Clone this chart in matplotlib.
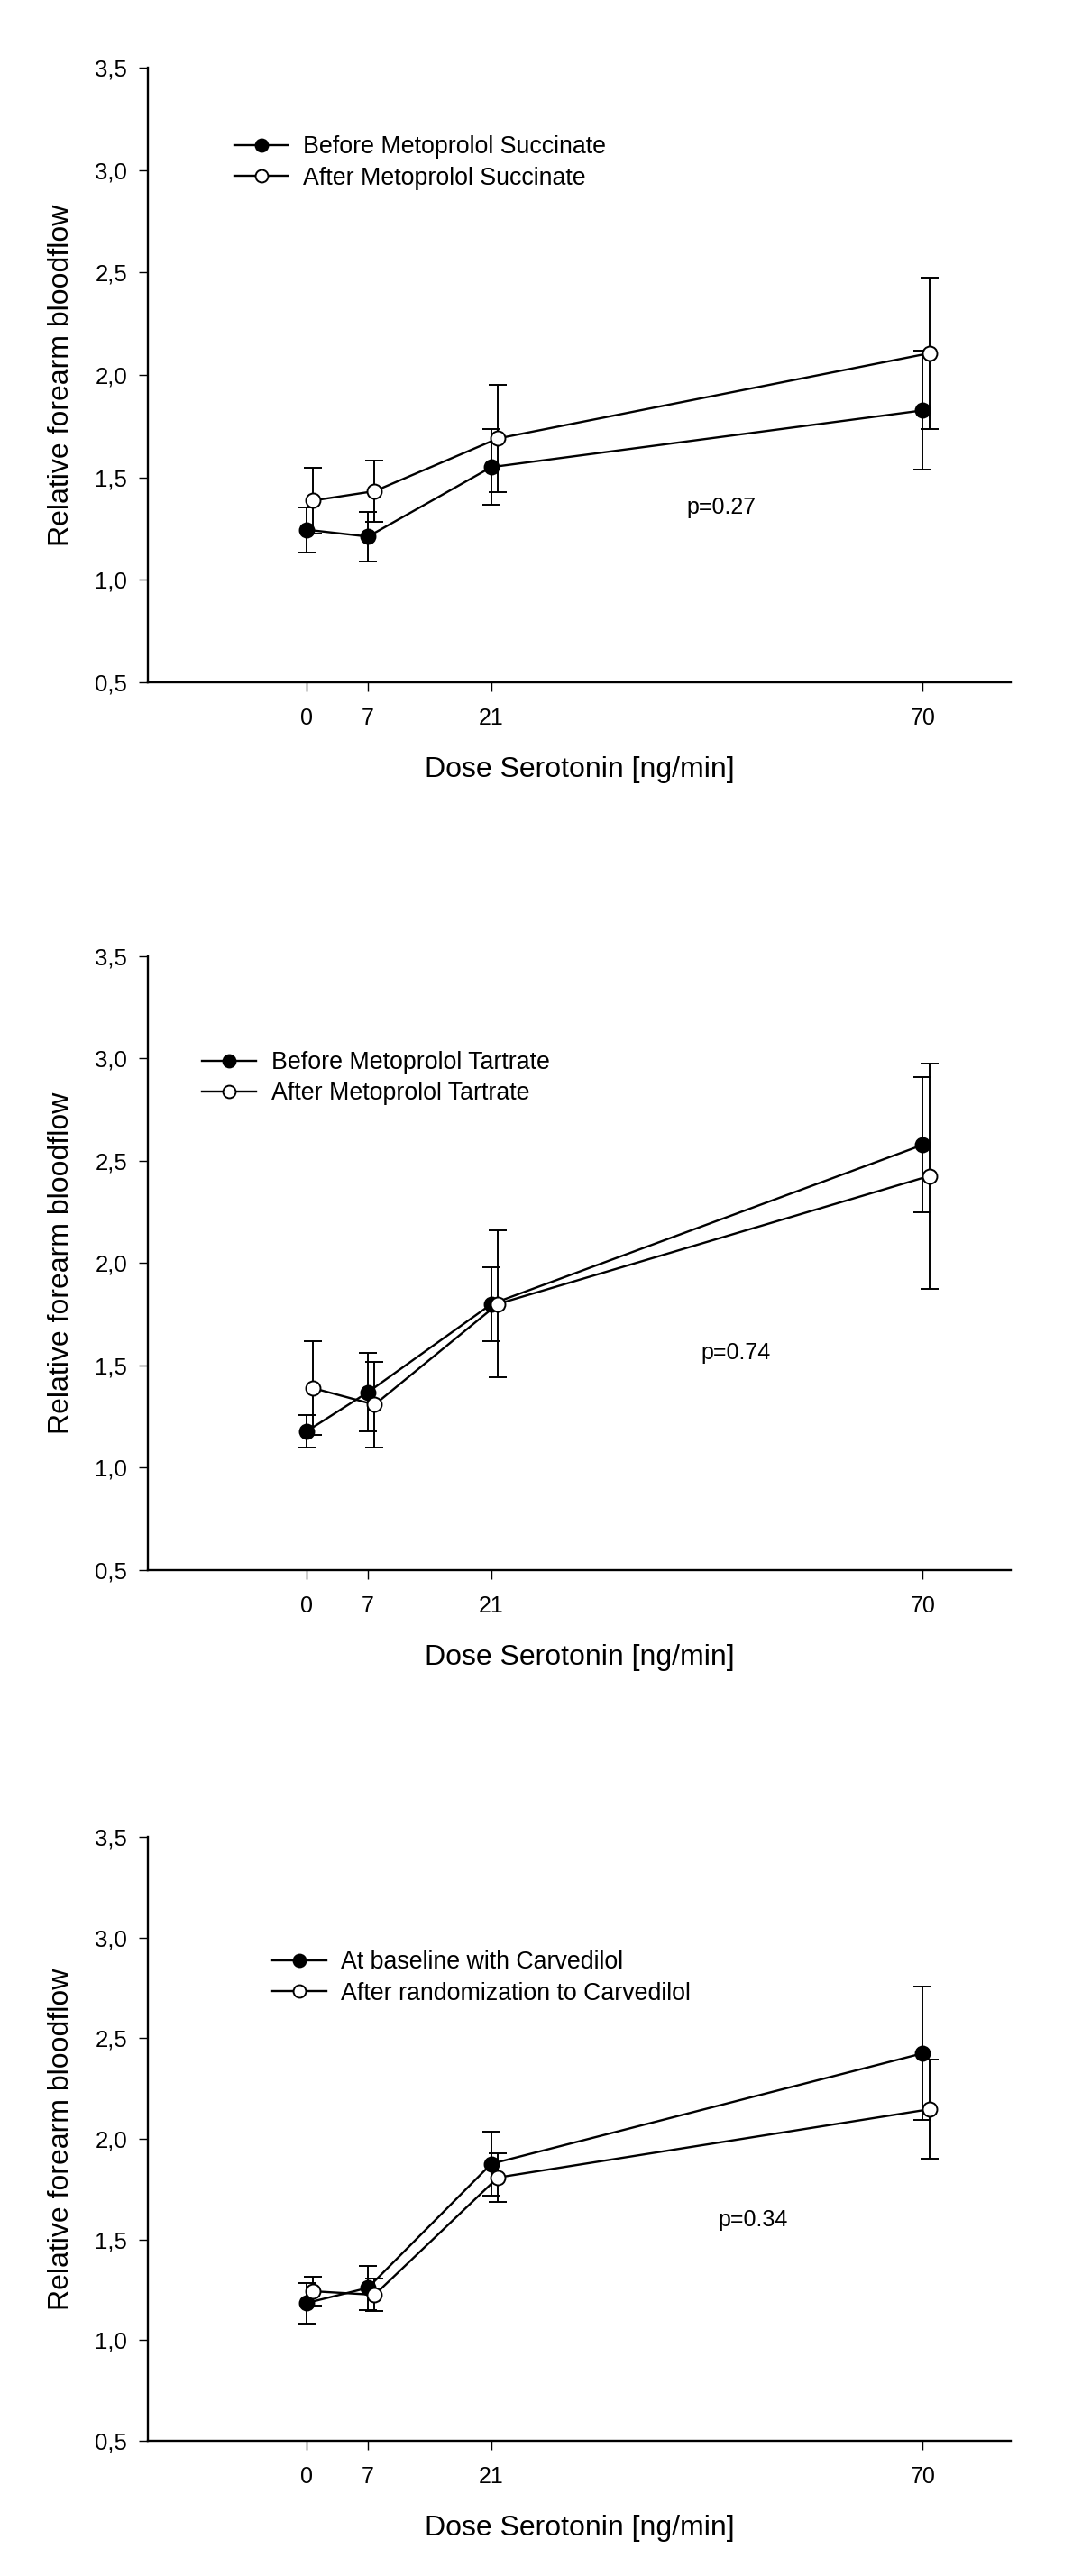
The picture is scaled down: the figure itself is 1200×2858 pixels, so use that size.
import matplotlib
matplotlib.use("Agg")
import matplotlib.pyplot as plt

plt.rcParams['font.family'] = ['Liberation Sans', 'DejaVu Sans']

# ---------------- data ----------------
doses = [0, 7, 21, 70]
dose_labels = ["0", "7", "21", "70"]
y_ticks = [0.5, 1.0, 1.5, 2.0, 2.5, 3.0, 3.5]
y_tick_labels = ["0,5", "1,0", "1,5", "2,0", "2,5", "3,0", "3,5"]

succ_before = [1.245, 1.211, 1.550, 1.827]
succ_before_err = [0.11, 0.12, 0.185, 0.29]
succ_after = [1.387, 1.433, 1.690, 2.106]
succ_after_err = [0.16, 0.15, 0.26, 0.37]

tart_before = [1.177, 1.369, 1.799, 2.577]
tart_before_err = [0.08, 0.19, 0.18, 0.33]
tart_after = [1.389, 1.308, 1.800, 2.425]
tart_after_err = [0.23, 0.21, 0.36, 0.55]

carv_before = [1.184, 1.260, 1.876, 2.425]
carv_before_err = [0.10, 0.11, 0.16, 0.33]
carv_after = [1.243, 1.225, 1.808, 2.147]
carv_after_err = [0.07, 0.08, 0.12, 0.245]

labels_succ = ["Before Metoprolol Succinate", "After Metoprolol Succinate"]
labels_tart = ["Before Metoprolol Tartrate", "After Metoprolol Tartrate"]
labels_carv = ["At baseline with Carvedilol", "After randomization to Carvedilol"]
p_texts = ["p=0.27", "p=0.74", "p=0.34"]

xlabel = "Dose Serotonin [ng/min]"
ylabel = "Relative forearm bloodflow"

# ---------------- layout / style ----------------
W, H = 1200, 2858
DPI = 100
fig = plt.figure(figsize=(W / DPI, H / DPI), dpi=DPI)

left = 164 / W
width = (1121 - 164) / W
panels_px = [(75, 757), (1060.5, 1742), (2038, 2708)]
legend_anchor = [(0.100, 0.8453), (0.0627, 0.801), (0.144, 0.7664)]
p_pos = [(47.1, 1.353), (48.8, 1.561), (50.7, 1.597)]
open_offset = 0.75

datasets = [
    (succ_before, succ_before_err, succ_after, succ_after_err, labels_succ),
    (tart_before, tart_before_err, tart_after, tart_after_err, labels_tart),
    (carv_before, carv_before_err, carv_after, carv_after_err, labels_carv),
]

for i, ((top, bot), (yb, eb, ya, ea, labs)) in enumerate(zip(panels_px, datasets)):
    ax = fig.add_axes([left, 1 - bot / H, width, (bot - top) / H])
    xa = [d + open_offset for d in doses]
    ax.errorbar(doses, yb, yerr=eb, fmt='none', ecolor='black',
                elinewidth=1.4, capsize=7, capthick=1.4, zorder=2)
    ax.errorbar(xa, ya, yerr=ea, fmt='none', ecolor='black',
                elinewidth=1.4, capsize=7, capthick=1.4, zorder=2)
    ax.plot(doses, yb, '-o', color='black', lw=1.7, ms=11.5,
            mfc='black', mec='black', mew=1.4, zorder=3, label=labs[0])
    ax.plot(xa, ya, '-o', color='black', lw=1.7, ms=11.5,
            mfc='white', mec='black', mew=1.4, zorder=4, label=labs[1])

    ax.set_xlim(-18, 80)
    ax.set_ylim(0.5, 3.5)
    ax.set_xticks(doses)
    ax.set_xticklabels(dose_labels)
    ax.set_yticks(y_ticks)
    ax.set_yticklabels(y_tick_labels)
    for s in ['top', 'right']:
        ax.spines[s].set_visible(False)
    for s in ['left', 'bottom']:
        ax.spines[s].set_linewidth(1.7)
    ax.tick_params(axis='both', direction='out', length=7, width=1.0)
    ax.tick_params(axis='x', pad=13, labelsize=18)
    ax.tick_params(axis='y', pad=9.5, labelsize=18.5)
    ax.set_xlabel(xlabel, fontsize=23, labelpad=22)
    ax.set_ylabel(ylabel, fontsize=23, labelpad=16)

    ax.legend(loc='center left', bbox_to_anchor=legend_anchor[i],
              frameon=False, fontsize=19.3, handlelength=2.23,
              handletextpad=0.63, labelspacing=0.3, borderpad=0,
              borderaxespad=0, markerscale=0.87)
    ax.text(p_pos[i][0], p_pos[i][1], p_texts[i], fontsize=18,
            ha='center', va='center')

fig.savefig("out.png", dpi=DPI, facecolor='white')
